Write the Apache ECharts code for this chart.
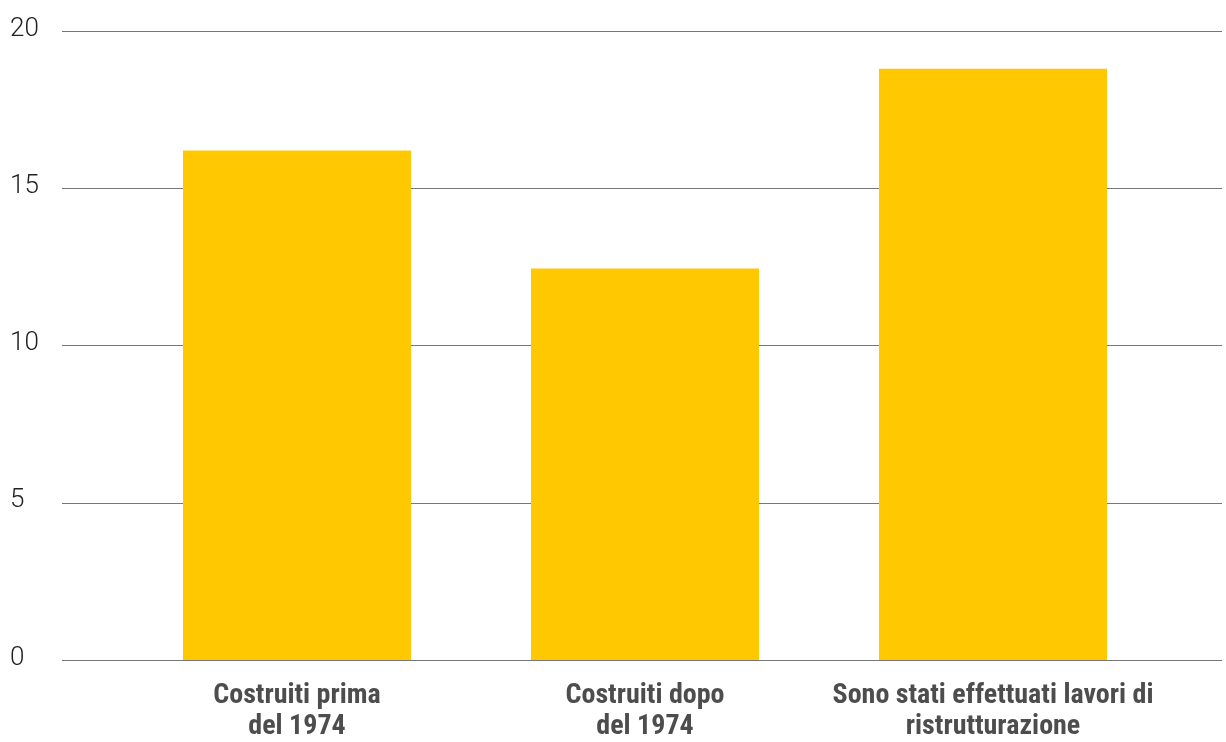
<!DOCTYPE html>
<html>
<head>
<meta charset="utf-8">
<script src="https://cdn.jsdelivr.net/npm/echarts@6/dist/echarts.min.js"></script>
<style>
  html, body { margin: 0; padding: 0; background: #fff; }
  #chart { width: 1226px; height: 742px; }
</style>
</head>
<body>
<div id="chart"></div>
<script>
  var categories = ['Costruiti prima\ndel 1974', 'Costruiti dopo\ndel 1974', 'Sono stati effettuati lavori di\nristrutturazione']
  var values = [16.2, 12.45, 18.8]
  var yTicks = [0, 5, 10, 15, 20]

  var chart = echarts.init(document.getElementById('chart'))
  chart.setOption({
    animation: false,
    grid: [
      // gridlines + y labels
      { left: 62, right: 4, top: 31, bottom: 82 },
      // bars
      { left: 123, right: 59, top: 31, bottom: 82 }
    ],
    xAxis: [
      { gridIndex: 0, type: 'value', show: false, min: 0, max: 1 },
      {
        gridIndex: 1,
        type: 'category',
        data: categories,
        axisLine: { show: false },
        axisTick: { show: false },
        axisLabel: {
          interval: 0,
          hideOverlap: false,
          margin: 20,
          fontFamily: '"Liberation Sans Narrow", "Roboto Condensed", Roboto, sans-serif',
          fontWeight: 'bold',
          fontSize: 28,
          lineHeight: 31,
          color: '#4d4d4d'
        }
      }
    ],
    yAxis: [
      {
        gridIndex: 0,
        type: 'value',
        min: yTicks[0],
        max: yTicks[yTicks.length - 1],
        interval: 5,
        axisLine: { show: false },
        axisTick: { show: false },
        axisLabel: {
          margin: 52,
          align: 'left',
          verticalAlign: 'bottom',
          padding: [0, 0, -11, 0],
          fontFamily: 'Roboto, sans-serif',
          fontWeight: 300,
          fontSize: 26,
          color: '#222'
        },
        splitLine: { lineStyle: { color: '#777', width: 1 } }
      },
      {
        gridIndex: 1,
        type: 'value',
        min: yTicks[0],
        max: yTicks[yTicks.length - 1],
        show: false,
        splitLine: { show: false }
      }
    ],
    series: [{
      type: 'bar',
      xAxisIndex: 1,
      yAxisIndex: 1,
      data: values,
      barWidth: 228,
      itemStyle: { color: '#ffc800' }
    }]
  })
</script>
</body>
</html>
